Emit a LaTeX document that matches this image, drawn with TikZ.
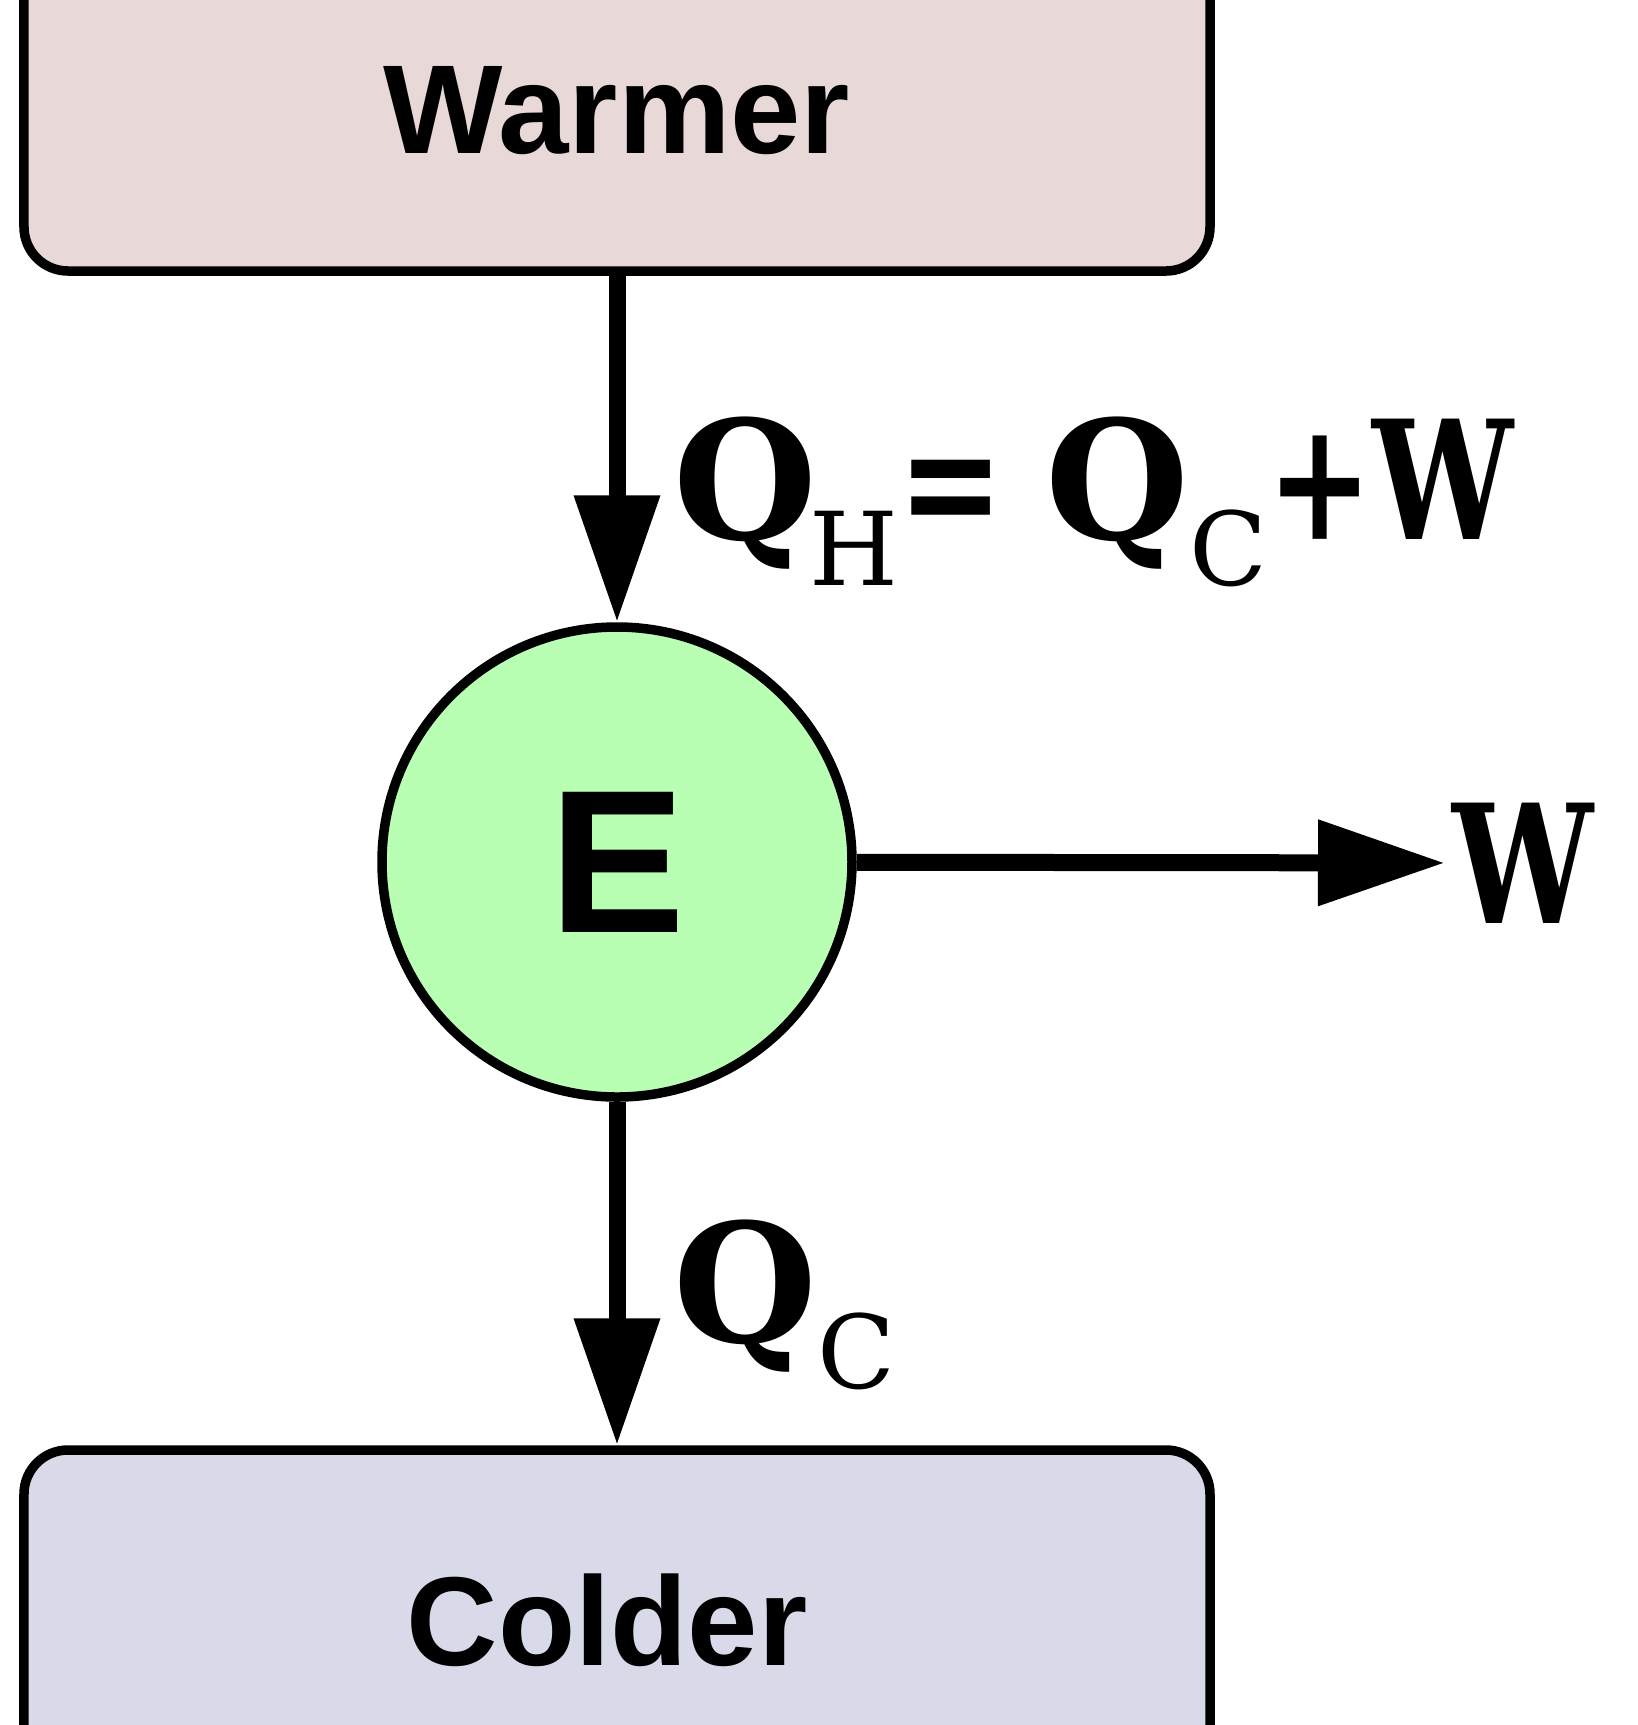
\documentclass[tikz,border=0pt]{standalone}
\usepackage{fontspec}
\setsansfont{Liberation Sans}
\newfontfamily\labserif{DejaVu Serif}
\usetikzlibrary{arrows.meta}
\definecolor{warmfill}{RGB}{233,216,216}
\definecolor{coldfill}{RGB}{216,218,233}
\definecolor{enginefill}{RGB}{184,255,180}
\definecolor{edgeink}{RGB}{0,0,0}
\newcommand{\subtxt}[1]{\raisebox{-0.46cm}{\mdseries\fontsize{29}{32}\selectfont #1}}
\newcommand{\narrowtxt}[1]{\scalebox{0.76}[1]{#1}}

\begin{document}
\begin{tikzpicture}[
  >=Triangle,
  reservoir/.style={draw=edgeink, line width=0.095cm, rounded corners=0.44cm,
    minimum width=11.86cm, font=\sffamily\bfseries\fontsize{36}{40}\selectfont},
  engine/.style={circle, draw=edgeink, line width=0.095cm, fill=enginefill,
    minimum size=4.7cm, font=\sffamily\bfseries\fontsize{58}{62}\selectfont},
  flow/.style={draw=edgeink, line width=0.17cm, -{Triangle[length=1.27cm, width=0.82cm]}},
  lab/.style={font=\labserif\bfseries\fontsize{47}{52}\selectfont, inner sep=0pt},
]

  % Frame of the picture (reference 1638 x 1725)
  \useasboundingbox (0,0) rectangle (16.38,-17.25);

  % --- Reservoirs (they run off the top and bottom edges) ---
  \node[reservoir, fill=warmfill, minimum height=3.2cm] (warmer) at (6.17,-1.11) {Warmer};
  \node[reservoir, fill=coldfill, minimum height=3.4cm] (colder) at (6.17,-16.20) {\hspace*{-0.2cm}Colder};

  % --- Engine ---
  \node[engine] (engine) at (6.17,-8.62) {E};

  % --- Labels ---
  \node[lab, anchor=west, inner sep=0.07cm] (wlab) at (14.45,-8.63) {\narrowtxt{W}};
  \node[lab, anchor=base west] (qhot) at (6.73,-5.39)
    {Q\hspace{-0.08cm}\subtxt{H}\narrowtxt{=}\hspace{0.42cm}Q\subtxt{C}\narrowtxt{+}\narrowtxt{W}};
  \node[lab, anchor=base west] (qcold) at (6.73,-13.42) {Q\subtxt{C}};

  % --- Heat and work flows ---
  \draw[flow] (warmer) -- (engine);
  \draw[flow] (engine) -- (colder);
  \draw[flow] (engine) -- (wlab);

\end{tikzpicture}
\end{document}
